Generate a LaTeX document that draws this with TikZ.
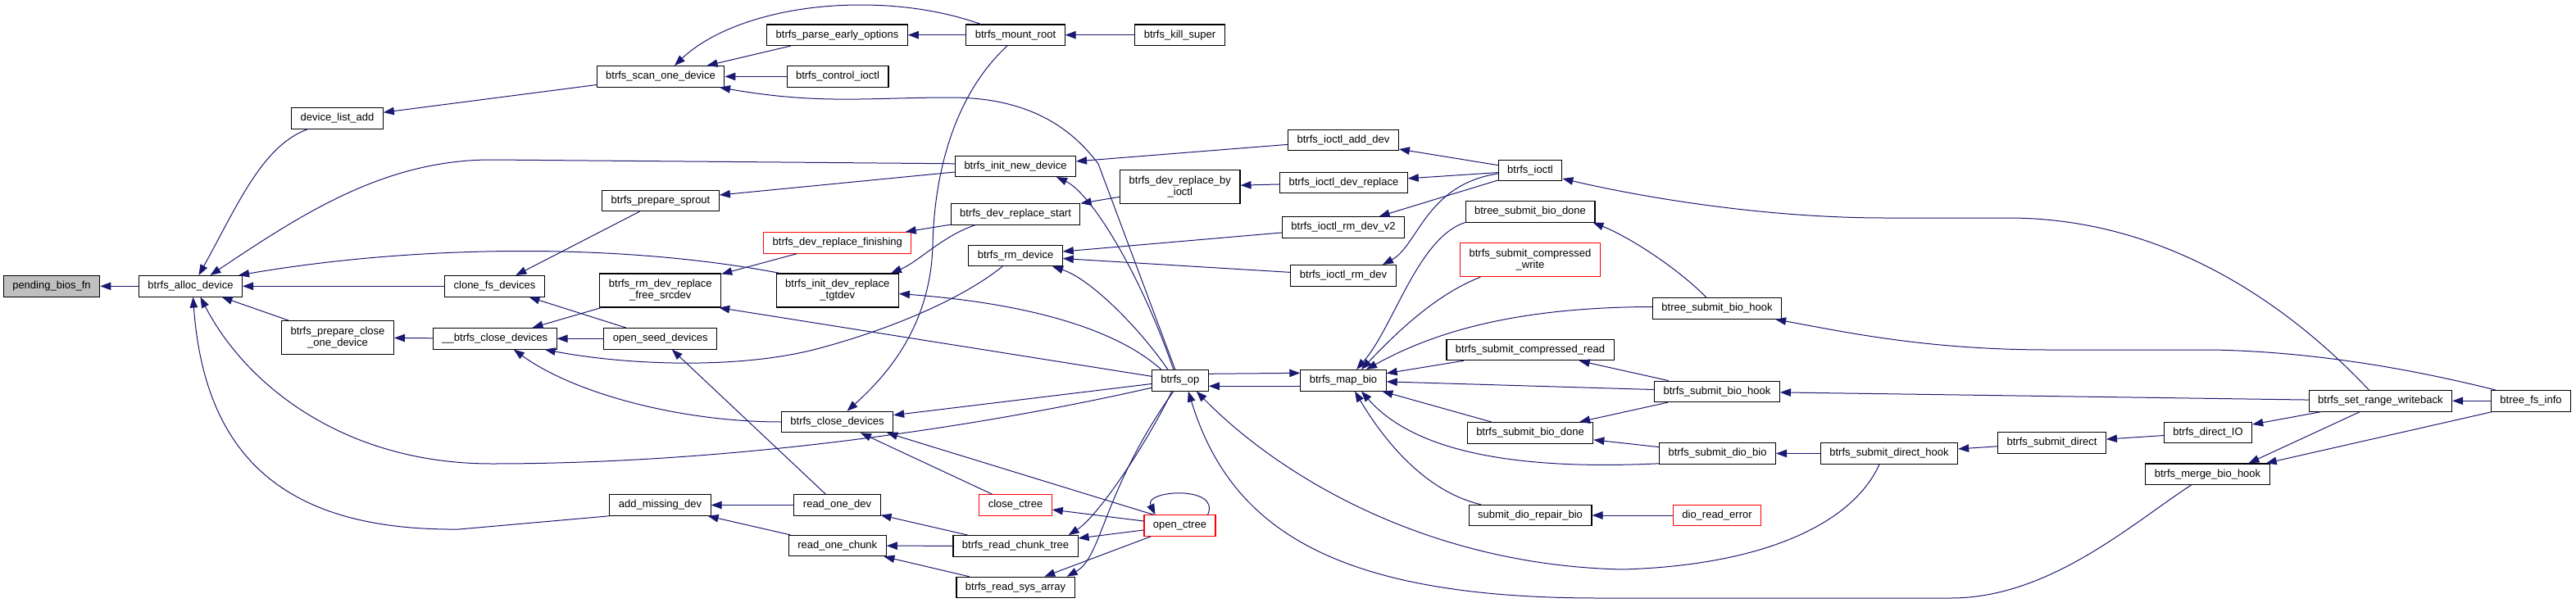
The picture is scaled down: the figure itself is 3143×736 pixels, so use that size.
\documentclass[tikz,border=0pt]{standalone}
\usepackage{fontspec}
\setmainfont{Liberation Sans}
\usetikzlibrary{arrows.meta}
\definecolor{EdgeBlue}{HTML}{191970}
\definecolor{NodeRed}{HTML}{FF0000}
\definecolor{NodeGray}{HTML}{BFBFBF}

\begin{document}
\begin{tikzpicture}[x=1pt,y=-1pt,line cap=round,
  fn/.style={draw=black,line width=1.1pt,fill=white,inner xsep=11pt,inner ysep=2pt,minimum height=25.5pt,align=center,font=\fontsize{13}{14}\selectfont},
  fn2/.style={fn,minimum height=41pt},
  fnred/.style={fn,draw=NodeRed},
  fnroot/.style={fn,fill=NodeGray},
  call/.style={draw=EdgeBlue,line width=1pt,{Triangle[length=13pt,width=9.5pt]}-}]
  \useasboundingbox (0,0) rectangle (3143,736);
  % functions
  \node[fnroot] (pending) at (63,349.3) {pending\_bios\_fn};
  \node[fn] (alloc) at (232.5,349.3) {btrfs\_alloc\_device};
  \node[fn] (devlist) at (411.5,144.5) {device\_list\_add};
  \node[fn2] (prepclose) at (412,412) {btrfs\_prepare\_close\\\_one\_device};
  \node[fn] (scan) at (806,93.4) {btrfs\_scan\_one\_device};
  \node[fn] (parse) at (1021.5,42.7) {btrfs\_parse\_early\_options};
  \node[fn] (ctlioctl) at (1022,93.4) {btrfs\_control\_ioctl};
  \node[fn] (sprout) at (806,245) {btrfs\_prepare\_sprout};
  \node[fnred] (finishing) at (1021.8,296.3) {btrfs\_dev\_replace\_finishing};
  \node[fn] (clonefs) at (603.5,349.3) {clone\_fs\_devices};
  \node[fn2] (srcdev) at (805.8,354.5) {btrfs\_rm\_dev\_replace\\\_free\_srcdev};
  \node[fn2] (tgtdev) at (1021.8,354.5) {btrfs\_init\_dev\_replace\\\_tgtdev};
  \node[fn] (closeu) at (603.8,413.3) {\_\_btrfs\_close\_devices};
  \node[fn] (openseed) at (805.7,413.3) {open\_seed\_devices};
  \node[fn] (closedev) at (1021.5,515) {btrfs\_close\_devices};
  \node[fn] (addmiss) at (805.5,616.5) {add\_missing\_dev};
  \node[fn] (readdev) at (1021.5,616.5) {read\_one\_dev};
  \node[fn] (readchunk) at (1021.8,666) {read\_one\_chunk};
  \node[fn] (mountroot) at (1239,42.7) {btrfs\_mount\_root};
  \node[fn] (killsuper) at (1439.5,42.7) {btrfs\_kill\_super};
  \node[fn] (initnew) at (1239,202.8) {btrfs\_init\_new\_device};
  \node[fn2] (byioctl) at (1439.8,228) {btrfs\_dev\_replace\_by\\\_ioctl};
  \node[fn] (devstart) at (1239,261.5) {btrfs\_dev\_replace\_start};
  \node[fn] (rmdev) at (1239,312) {btrfs\_rm\_device};
  \node[fnred] (closectree) at (1239,616.5) {close\_ctree};
  \node[fnred] (openctree) at (1439.5,641.5) {open\_ctree};
  \node[fn] (chunktree) at (1239,666.5) {btrfs\_read\_chunk\_tree};
  \node[fn] (sysarray) at (1239,717) {btrfs\_read\_sys\_array};
  \node[fn] (op) at (1439.8,464.3) {btrfs\_op};
  \node[fn] (ioadd) at (1639,171) {btrfs\_ioctl\_add\_dev};
  \node[fn] (iorepl) at (1639.4,223) {btrfs\_ioctl\_dev\_replace};
  \node[fn] (iormv2) at (1639,277.5) {btrfs\_ioctl\_rm\_dev\_v2};
  \node[fn] (iorm) at (1639,336.3) {btrfs\_ioctl\_rm\_dev};
  \node[fn] (mapbio) at (1639,464.3) {btrfs\_map\_bio};
  \node[fn] (ioctl) at (1867,208) {btrfs\_ioctl};
  \node[fn] (btreedone) at (1867,258.3) {btree\_submit\_bio\_done};
  \node[fn2,draw=NodeRed] (cwrite) at (1867,317.3) {btrfs\_submit\_compressed\\\_write};
  \node[fn] (cread) at (1867,427) {btrfs\_submit\_compressed\_read};
  \node[fn] (biodone) at (1867,528.3) {btrfs\_submit\_bio\_done};
  \node[fn] (repair) at (1867,629) {submit\_dio\_repair\_bio};
  \node[fn] (btreehook) at (2095,376.5) {btree\_submit\_bio\_hook};
  \node[fn] (biohook) at (2095,477.8) {btrfs\_submit\_bio\_hook};
  \node[fn] (diobio) at (2095.5,553.5) {btrfs\_submit\_dio\_bio};
  \node[fnred] (readerr) at (2095,629) {dio\_read\_error};
  \node[fn] (directhook) at (2305,553.5) {btrfs\_submit\_direct\_hook};
  \node[fn] (direct) at (2503.5,540.4) {btrfs\_submit\_direct};
  \node[fn] (directio) at (2694,528) {btrfs\_direct\_IO};
  \node[fn] (mergebio) at (2693.5,578.7) {btrfs\_merge\_bio\_hook};
  \node[fn] (setrange) at (2904.4,489.3) {btrfs\_set\_range\_writeback};
  \node[fn] (fsinfo) at (3088,489.3) {btree\_fs\_info};
  % calls into btrfs_alloc_device
  \draw[call] (pending) -- (alloc);
  \draw[call] ([xshift=10pt]alloc.north) .. controls (290,250) and (320,178) .. ([xshift=20pt]devlist.south west);
  \draw[call] ([xshift=24pt]alloc.north) .. controls (370,260) and (470,195) .. (600,195) -- ([yshift=3pt]initnew.west);
  \draw[call] ([xshift=-5pt]alloc.north east) .. controls (500,300) and (750,295) .. ([xshift=5pt]tgtdev.north west);
  \draw[call] (alloc) -- (clonefs);
  \draw[call] (alloc) -- (prepclose);
  \draw[call] ([xshift=12pt]alloc.south) .. controls (300,470) and (420,566) .. (600,566) .. controls (900,566) and (1200,520) .. ([yshift=-9pt]op.west);
  \draw[call] ([xshift=3pt]alloc.south) .. controls (250,560) and (350,648) .. (560,646) -- (addmiss.south west);
  % scan and mount
  \draw[call] (devlist) -- (scan);
  \draw[call] ([xshift=17pt]scan.north) .. controls (870,35) and (950,6) .. (1050,6) .. controls (1120,6) and (1170,20) .. ([xshift=18pt]mountroot.north west);
  \draw[call] (scan) -- (parse);
  \draw[call] (scan) -- (ctlioctl);
  \draw[call] ([xshift=72pt]scan.south) .. controls (1000,128) and (1060,119) .. (1160,119) .. controls (1260,119) and (1310,160) .. (1340,200) -- ([xshift=-6pt]op.north);
  \draw[call] (parse) -- (mountroot);
  \draw[call] (mountroot) -- (killsuper);
  \draw[call] ([xshift=12pt]closedev.north) .. controls (1080,460) and (1135,400) .. (1138,300) .. controls (1140,200) and (1170,110) .. ([xshift=-10pt]mountroot.south);
  % devices
  \draw[call] (sprout) -- (initnew);
  \draw[call] (clonefs) -- (sprout);
  \draw[call] (clonefs) -- (openseed);
  \draw[call] (closeu) -- (srcdev);
  \draw[call] (closeu) -- (openseed);
  \draw[call] ([xshift=-15pt]closeu.south east) .. controls (760,445) and (900,452) .. (1000,425) .. controls (1100,398) and (1180,360) .. ([xshift=-16pt]rmdev.south);
  \draw[call] ([xshift=23pt]closeu.south) .. controls (700,480) and (830,515) .. (closedev.west);
  \draw[call] (prepclose) -- (closeu);
  \draw[call] (srcdev) -- (finishing);
  \draw[call] ([xshift=-3pt]srcdev.south east) -- ([yshift=5pt]op.west);
  \draw[call] ([xshift=-10pt]tgtdev.north east) .. controls (1120,320) and (1150,288) .. ([xshift=30pt]devstart.south west);
  \draw[call] (finishing) -- (devstart);
  \draw[call] (devstart) -- (byioctl);
  \draw[call] (byioctl) -- (iorepl);
  \draw[call] (initnew) -- (ioadd);
  \draw[call] ([xshift=50pt]initnew.south) .. controls (1330,235) and (1390,330) .. ([xshift=-8pt]op.north);
  \draw[call] (rmdev) -- (iormv2);
  \draw[call] (rmdev) -- (iorm);
  \draw[call] ([xshift=45pt]rmdev.south) .. controls (1330,340) and (1390,400) .. ([xshift=-15pt]op.north);
  \draw[call] ([yshift=-4pt]tgtdev.east) .. controls (1250,370) and (1360,400) .. ([xshift=-23pt]op.north);
  \draw[call] (closedev) -- (op);
  \draw[call] ([xshift=-8pt]closedev.south east) -- ([xshift=12pt]openctree.north west);
  \draw[call] (closedev) -- (closectree);
  \draw[call] (closectree) -- (openctree);
  \draw[call] ([xshift=14pt]openctree.north west) .. controls (1395,598) and (1490,592) .. ([xshift=-10pt]openctree.north east);
  % chunk tree
  \draw[call] (addmiss) -- (readdev);
  \draw[call] (addmiss) -- (readchunk);
  \draw[call] (openseed) -- (readdev);
  \draw[call] (readdev) -- (chunktree);
  \draw[call] (readchunk) -- (chunktree);
  \draw[call] (readchunk) -- (sysarray);
  \draw[call] (chunktree) -- (openctree);
  \draw[call] ([xshift=-12pt]chunktree.north east) .. controls (1340,630) and (1400,540) .. ([xshift=-10pt]op.south);
  \draw[call] (sysarray) -- (openctree);
  \draw[call] ([xshift=-10pt]sysarray.north east) .. controls (1345,680) and (1345,600) .. ([xshift=-8pt]op.south);
  % btrfs_op and btrfs_map_bio
  \draw[call] ([yshift=9pt]mapbio.west) -- ([yshift=8pt]op.east);
  \draw[call] ([yshift=-7pt]op.east) -- ([yshift=-7pt]mapbio.west);
  \draw[call] ([xshift=20pt]op.south) .. controls (1560,580) and (1740,690) .. (1980,695) .. controls (2150,690) and (2260,640) .. ([xshift=-12pt]directhook.south);
  \draw[call] ([xshift=10pt]op.south) .. controls (1500,640) and (1620,730) .. (1950,730) -- (2380,730) .. controls (2500,730) and (2600,640) .. ([xshift=-20pt]mergebio.south);
  % ioctl
  \draw[call] (ioadd) -- (ioctl);
  \draw[call] (iorepl) -- (ioctl);
  \draw[call] (iormv2) -- (ioctl);
  \draw[call] ([xshift=48pt]iorm.north) .. controls (1730,300) and (1740,225) .. ([yshift=-4pt]ioctl.west);
  \draw[call] ([yshift=-10pt]ioctl.east) .. controls (2000,240) and (2150,266) .. (2300,266) -- (2450,266) .. controls (2650,266) and (2800,380) .. ([xshift=-14pt]setrange.north);
  % submit paths
  \draw[call] ([xshift=16pt]mapbio.north) .. controls (1700,400) and (1730,290) .. (btreedone.south west);
  \draw[call] ([xshift=22pt]mapbio.north) .. controls (1700,410) and (1750,360) .. ([xshift=25pt]cwrite.south west);
  \draw[call] ([xshift=28pt]mapbio.north) .. controls (1750,405) and (1850,375) .. ([yshift=2pt]btreehook.west);
  \draw[call] (mapbio) -- (cread);
  \draw[call] (mapbio) -- (biohook);
  \draw[call] (mapbio) -- (biodone);
  \draw[call] ([xshift=22pt]mapbio.south) .. controls (1720,545) and (1830,575) .. ([yshift=1pt]diobio.south west);
  \draw[call] ([xshift=14pt]mapbio.south) .. controls (1690,540) and (1740,600) .. ([xshift=15pt]repair.north west);
  \draw[call] ([xshift=-3pt]btreedone.south east) .. controls (1990,290) and (2050,330) .. ([xshift=-13pt]btreehook.north);
  \draw[call] (cread) -- (biohook);
  \draw[call] (biodone) -- (biohook);
  \draw[call] (biodone) -- (diobio);
  \draw[call] (repair) -- (readerr);
  \draw[call] ([xshift=-8pt]btreehook.south east) .. controls (2250,405) and (2350,427) .. (2500,427) -- (2700,427) .. controls (2850,430) and (2980,460) .. ([xshift=6pt]fsinfo.north west);
  \draw[call] (biohook) -- (setrange);
  \draw[call] (diobio) -- (directhook);
  \draw[call] (directhook) -- (direct);
  \draw[call] (direct) -- (directio);
  \draw[call] (directio) -- (setrange);
  \draw[call] ([xshift=50pt]mergebio.north) -- ([xshift=-25pt]setrange.south);
  \draw[call] ([xshift=-5pt]mergebio.north east) -- ([xshift=2pt]fsinfo.south west);
  \draw[call] (setrange) -- (fsinfo);
\end{tikzpicture}
\end{document}
